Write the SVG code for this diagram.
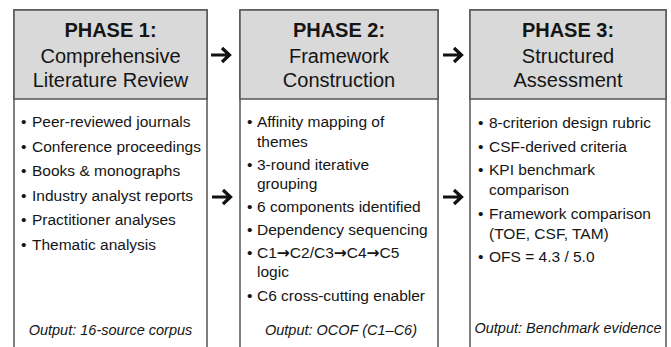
<svg xmlns="http://www.w3.org/2000/svg" width="671" height="347" viewBox="0 0 671 347">
<style>
.box{fill:#ffffff;stroke:#555555;stroke-width:1.5}
.hdr{fill:#d9d9d9;stroke:#555555;stroke-width:1.5}
text{font-family:"Liberation Sans",Arial,sans-serif;fill:#151515}
.h{font-size:20px;text-anchor:middle}
.hb{font-weight:bold}
.b{font-size:15.5px}
.o{font-size:14.5px;font-style:italic;text-anchor:middle}
.ar{font-family:"DejaVu Sans",sans-serif;font-weight:bold}
.arr{fill:none;stroke:#111111;stroke-width:3.2;stroke-linecap:butt;stroke-linejoin:miter}
</style>
<rect width="671" height="347" fill="#ffffff"/>

<g id="phase1">
  <rect class="box" x="14" y="10" width="193" height="345"/>
  <rect class="hdr" x="14" y="10" width="193" height="89"/>
  <text class="h hb" x="110.5" y="37">PHASE 1:</text>
  <text class="h" x="110.5" y="63">Comprehensive</text>
  <text class="h" x="110.5" y="87">Literature Review</text>
  <text class="b" x="21" y="127">•</text><text class="b" x="32" y="127">Peer-reviewed journals</text>
  <text class="b" x="21" y="151.5">•</text><text class="b" x="32" y="151.5">Conference proceedings</text>
  <text class="b" x="21" y="176">•</text><text class="b" x="32" y="176">Books &amp; monographs</text>
  <text class="b" x="21" y="200.5">•</text><text class="b" x="32" y="200.5">Industry analyst reports</text>
  <text class="b" x="21" y="225">•</text><text class="b" x="32" y="225">Practitioner analyses</text>
  <text class="b" x="21" y="249.5">•</text><text class="b" x="32" y="249.5">Thematic analysis</text>
  <text class="o" x="110.5" y="335">Output: 16-source corpus</text>
</g>

<g id="phase2">
  <rect class="box" x="240" y="10" width="198" height="345"/>
  <rect class="hdr" x="240" y="10" width="198" height="89"/>
  <text class="h hb" x="339" y="37">PHASE 2:</text>
  <text class="h" x="339" y="63">Framework</text>
  <text class="h" x="339" y="87">Construction</text>
  <text class="b" x="247" y="127">•</text><text class="b" x="257" y="127">Affinity mapping of</text>
  <text class="b" x="257" y="146.5">themes</text>
  <text class="b" x="247" y="170">•</text><text class="b" x="257" y="170">3-round iterative</text>
  <text class="b" x="257" y="189">grouping</text>
  <text class="b" x="247" y="212">•</text><text class="b" x="257" y="212">6 components identified</text>
  <text class="b" x="247" y="235">•</text><text class="b" x="257" y="235">Dependency sequencing</text>
  <text class="b" x="247" y="258">•</text><text class="b" x="257" y="258">C1<tspan class="ar">→</tspan>C2/C3<tspan class="ar">→</tspan>C4<tspan class="ar">→</tspan>C5</text>
  <text class="b" x="257" y="277">logic</text>
  <text class="b" x="247" y="300.5">•</text><text class="b" x="257" y="300.5">C6 cross-cutting enabler</text>
  <text class="o" x="341" y="335">Output: OCOF (C1–C6)</text>
</g>

<g id="phase3">
  <rect class="box" x="470" y="10" width="196" height="345"/>
  <rect class="hdr" x="470" y="10" width="196" height="89"/>
  <text class="h hb" x="568" y="37">PHASE 3:</text>
  <text class="h" x="568" y="63">Structured</text>
  <text class="h" x="568" y="87">Assessment</text>
  <text class="b" x="478" y="128">•</text><text class="b" x="489" y="128">8-criterion design rubric</text>
  <text class="b" x="478" y="151.5">•</text><text class="b" x="489" y="151.5">CSF-derived criteria</text>
  <text class="b" x="478" y="175">•</text><text class="b" x="489" y="175">KPI benchmark</text>
  <text class="b" x="489" y="195">comparison</text>
  <text class="b" x="478" y="218.5">•</text><text class="b" x="489" y="218.5">Framework comparison</text>
  <text class="b" x="489" y="238.5">(TOE, CSF, TAM)</text>
  <text class="b" x="478" y="262">•</text><text class="b" x="489" y="262">OFS = 4.3 / 5.0</text>
  <text class="o" x="568" y="333">Output: Benchmark evidence</text>
</g>

<g id="connectors">
  <path class="arr" d="M211,55 H229 M222,48 L229.5,55 L222,62"/>
  <path class="arr" d="M443,55 H461 M454,48 L461.5,55 L454,62"/>
  <path class="arr" d="M212,197 H230 M223,190 L230.5,197 L223,204"/>
  <path class="arr" d="M443,197 H461 M454,190 L461.5,197 L454,204"/>
</g>
</svg>
